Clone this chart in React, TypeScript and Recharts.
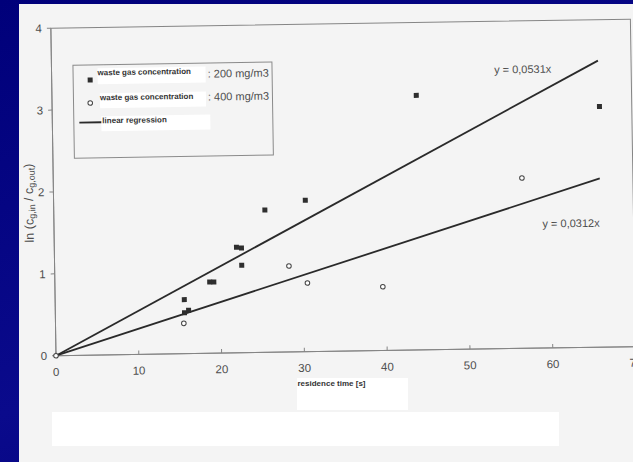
import {
  ScatterChart,
  Scatter,
  XAxis,
  YAxis,
  Legend,
  ReferenceArea,
  ReferenceDot,
} from "recharts";

// measured points, waste gas 200 mg/m3 (filled squares)
const time200 = [15.6, 15.6, 16.1, 18.7, 19.2, 22.0, 22.6, 22.6, 25.5, 30.4, 44.0, 66.1];
const ln200 = [0.66, 0.5, 0.53, 0.87, 0.87, 1.29, 1.28, 1.07, 1.74, 1.85, 3.11, 2.94];

// measured points, waste gas 400 mg/m3 (open circles)
const time400 = [0, 15.5, 28.3, 30.5, 39.6, 56.6];
const ln400 = [0, 0.37, 1.05, 0.84, 0.78, 2.08];

// regression lines through the origin
const fitTime = [0, 66];
const fit200 = [0, 3.5];
const fit400 = [0, 2.06];

const xTicks = [0, 10, 20, 30, 40, 50, 60, 70];
const yTicks = [0, 1, 2, 3, 4];

const zip = (xs: number[], ys: number[]) => xs.map((x, i) => ({ x, y: ys[i] }));

const pts200 = zip(time200, ln200);
const pts400 = zip(time400, ln400);
const line200 = zip(fitTime, fit200);
const line400 = zip(fitTime, fit400);

const FONT = '"Liberation Sans", Arial, sans-serif';
const NARROW = '"Liberation Sans Narrow", "Liberation Sans", Arial, sans-serif';
const AXIS = "#858585";
const TEXT = "#4d4d4d";

const Square = (p: any) => <rect x={p.cx - 2.5} y={p.cy - 2.5} width={5} height={5} fill="#2e2e2e" />;
const Circle = (p: any) => (
  <circle cx={p.cx} cy={p.cy} r={2.3} fill="#fff" stroke="#444" strokeWidth={1} />
);
const NoDot = () => <g />;

function YTitle({ viewBox }: any) {
  const cx = viewBox.x + 15.5;
  const cy = viewBox.y + viewBox.height / 2 + 10.7;
  return (
    <text
      x={cx}
      y={cy}
      transform={`rotate(-90 ${cx} ${cy})`}
      textAnchor="middle"
      dominantBaseline="central"
      fontSize={12.5}
      fontFamily={FONT}
      fill={TEXT}
    >
      ln (c
      <tspan fontSize={9} dy={3}>g,in</tspan>
      <tspan dy={-3}> / c</tspan>
      <tspan fontSize={9} dy={3}>g,out</tspan>
      <tspan dy={-3}>)</tspan>
    </text>
  );
}

const eqLabel = (text: string) => ({ viewBox }: any) => (
  <text
    x={viewBox.x + viewBox.width / 2}
    y={viewBox.y + viewBox.height / 2}
    textAnchor="middle"
    dominantBaseline="central"
    fontSize={11}
    fontFamily={FONT}
    fill={TEXT}
  >
    {text}
  </text>
);

const patch: React.CSSProperties = { position: "absolute", background: "#fff" };
const small: React.CSSProperties = {
  position: "absolute",
  fontFamily: NARROW,
  fontWeight: "bold",
  fontSize: 8,
  color: "#333",
  lineHeight: "10px",
  whiteSpace: "nowrap",
};
const big: React.CSSProperties = {
  position: "absolute",
  fontFamily: FONT,
  fontSize: 11,
  color: TEXT,
  lineHeight: "14px",
  whiteSpace: "nowrap",
};

function LegendBox() {
  return (
    <div style={{ position: "relative", width: 198, height: 92, border: "1px solid #8a8a8a" }}>
      <div style={{ ...patch, left: 24, top: 3, width: 108, height: 16 }} />
      <div style={{ ...patch, left: 26, top: 28, width: 106, height: 15 }} />
      <div style={{ ...patch, left: 27, top: 51, width: 109, height: 15 }} />
      <svg style={{ position: "absolute", left: 0, top: 0 }} width={40} height={70}>
        <rect x={14} y={12} width={5} height={5} fill="#2e2e2e" />
        <circle cx={16.2} cy={37.5} r={2.3} fill="#fff" stroke="#444" strokeWidth={1} />
        <line x1={5} x2={27} y1={57} y2={57} stroke="#2a2a2a" strokeWidth={1.8} />
      </svg>
      <span style={{ ...small, left: 24, top: 3.5 }}>waste gas concentration</span>
      <span style={{ ...big, left: 134, top: 3 }}>: 200 mg/m3</span>
      <span style={{ ...small, left: 26, top: 28.3 }}>waste gas concentration</span>
      <span style={{ ...big, left: 134, top: 26.5 }}>: 400 mg/m3</span>
      <span style={{ ...small, left: 28, top: 51.3 }}>linear regression</span>
    </div>
  );
}

export default function App() {
  return (
    <div
      style={{
        position: "fixed",
        left: 0,
        top: 0,
        width: 633,
        height: 462,
        overflow: "hidden",
        background: "linear-gradient(160deg, #00007a 0%, #0a0a8c 60%, #00007a 100%)",
      }}
    >
      {/* scanned page */}
      <div style={{ position: "absolute", left: 19, top: 4, width: 614, height: 458, background: "#f4f4f4" }} />
      {/* pasted white patches */}
      <div style={{ ...patch, left: 297, top: 378, width: 111, height: 32 }}>
        <span style={{ ...small, left: 0.5, top: 1 }}>residence time [s]</span>
      </div>
      <div style={{ ...patch, left: 52, top: 412, width: 507, height: 34 }} />

      <div
        style={{
          position: "absolute",
          left: 0,
          top: 0,
          width: 660,
          height: 462,
          transform: "rotate(-0.9deg)",
          transformOrigin: "56px 355.7px",
        }}
      >
        <ScatterChart
          width={660}
          height={462}
          margin={{ top: 28.2, right: 24.4, bottom: 76.3, left: 16 }}
        >
          <ReferenceArea x1={0} x2={70} y1={0} y2={4} fill="none" fillOpacity={0} stroke={AXIS} strokeWidth={1} />
          <XAxis
            type="number"
            dataKey="x"
            domain={[0, 70]}
            ticks={xTicks}
            interval={0}
            height={30}
            tickSize={-4}
            tickMargin={16}
            axisLine={{ stroke: AXIS }}
            tickLine={{ stroke: AXIS }}
            tick={{ fontSize: 11.5, fill: TEXT, fontFamily: FONT }}
          />
          <YAxis
            type="number"
            dataKey="y"
            domain={[0, 4]}
            ticks={yTicks}
            interval={0}
            width={40}
            tickSize={4}
            tickMargin={5}
            axisLine={{ stroke: AXIS }}
            tickLine={{ stroke: AXIS }}
            tick={{ fontSize: 11.5, fill: TEXT, fontFamily: FONT }}
            label={{ content: (p: any) => <YTitle {...p} /> }}
          />
          <Legend
            verticalAlign="middle"
            content={() => <LegendBox />}
            wrapperStyle={{ position: "absolute", left: 77, top: 64.5, width: 200, height: 94 }}
          />
          <Scatter
            name="fit 200"
            data={line200}
            line={{ stroke: "#2a2a2a", strokeWidth: 1.8 }}
            shape={NoDot}
            legendType="none"
            isAnimationActive={false}
          />
          <Scatter
            name="fit 400"
            data={line400}
            line={{ stroke: "#2a2a2a", strokeWidth: 1.8 }}
            shape={NoDot}
            legendType="none"
            isAnimationActive={false}
          />
          <Scatter name="200 mg/m3" data={pts200} shape={Square} isAnimationActive={false} />
          <Scatter name="400 mg/m3" data={pts400} shape={Circle} isAnimationActive={false} />
          <ReferenceDot x={56.9} y={3.41} r={0} fill="none" stroke="none" label={{ content: eqLabel("y = 0,0531x") }} />
          <ReferenceDot x={62.45} y={1.52} r={0} fill="none" stroke="none" label={{ content: eqLabel("y = 0,0312x") }} />
        </ScatterChart>
      </div>
    </div>
  );
}
